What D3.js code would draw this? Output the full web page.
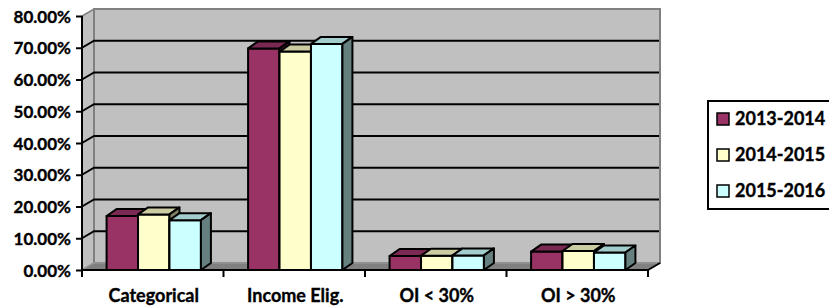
<!DOCTYPE html>
<html>
<head>
<meta charset="utf-8">
<script src="https://cdn.jsdelivr.net/npm/d3@7"></script>
<style>
  body { margin: 0; background: #fff; }
  text { font-family: Lato, "Open Sans", sans-serif; font-weight: bold; fill: #000; stroke: #000; stroke-width: 0.35px; }
</style>
</head>
<body>
<svg id="chart" width="829" height="306"></svg>
<script>
// data
var categories = ["Categorical", "Income Elig.", "OI < 30%", "OI > 30%"]
var seriesNames = ["2013-2014", "2014-2015", "2015-2016"]
var s2013 = [0.170, 0.698, 0.044, 0.058]
var s2014 = [0.175, 0.688, 0.045, 0.060]
var s2015 = [0.157, 0.712, 0.046, 0.055]
var yTicks = [0, 0.1, 0.2, 0.3, 0.4, 0.5, 0.6, 0.7, 0.8]

var seriesValues = [s2013, s2014, s2015]
var fronts = ["#993366", "#FFFFCC", "#CCFFFF"]

var svg = d3.select("#chart")

// plot geometry
var plotLeft = 82, plotRight = 648, plotBottom = 270, plotTop = 16
var wallDx = 12, wallDy = 7   // depth of the back wall
var barDx = 10, barDy = 7     // depth of a bar

var y = d3.scaleLinear().domain([0, 0.8]).range([plotBottom, plotTop])
var x = d3.scaleBand().domain(categories).range([plotLeft, plotRight]).padding(0)
var xs = d3.scaleBand().domain(seriesNames).range([0, x.bandwidth() * 2 / 3])

function shade(c, k){
    var col = d3.rgb(c)
    return d3.rgb(col.r * k, col.g * k, col.b * k).toString()
}

//#region WALLS
var wallTop = y(0.8) - wallDy
var wallRight = plotRight + wallDx
// side wall
svg.append("polygon")
    .attr("points", [[plotLeft, plotBottom], [plotLeft, plotTop], [plotLeft + wallDx, wallTop], [plotLeft + wallDx, plotBottom - wallDy]].join(" "))
    .style("fill", "#c0c0c0").style("stroke", "#808080").style("stroke-width", 1.5)
// back wall
svg.append("rect")
    .attr("x", plotLeft + wallDx).attr("y", wallTop)
    .attr("width", wallRight - plotLeft - wallDx).attr("height", plotBottom - wallDy - wallTop)
    .style("fill", "#c0c0c0").style("stroke", "#808080").style("stroke-width", 2)
// floor
svg.append("polygon")
    .attr("points", [[plotLeft, plotBottom], [plotRight, plotBottom], [wallRight, plotBottom - wallDy], [plotLeft + wallDx, plotBottom - wallDy]].join(" "))
    .style("fill", "#808080").style("stroke", "#a0a0a0").style("stroke-width", 1)
svg.append("line")
    .attr("x1", plotRight).attr("y1", plotBottom).attr("x2", wallRight).attr("y2", plotBottom - wallDy)
    .style("stroke", "#000").style("stroke-width", 2)

// gridlines across side and back walls
svg.append("g").selectAll("polyline")
    .data(yTicks.filter(function(t){ return t > 0 && t < 0.8 }))
    .join("polyline")
    .attr("points", function(t){
        return [[plotLeft, y(t)], [plotLeft + wallDx, y(t) - wallDy], [wallRight - 1, y(t) - wallDy]].join(" ")
    })
    .style("fill", "none").style("stroke", "#000").style("stroke-width", 2)

//#region BARS
var bars = []
categories.forEach(function(c, i){
    seriesNames.forEach(function(s, j){
        bars.push({cat: c, series: s, value: seriesValues[j][i], color: fronts[j]})
    })
})

var barG = svg.append("g")
bars.forEach(function(d){
    var x0 = x(d.cat) + x.bandwidth() / 6 + 1 + xs(d.series)
    var x1 = x0 + xs.bandwidth()
    var yv = y(d.value), y0 = y(0)
    var g = barG.append("g")
    g.append("polygon")
        .attr("points", [[x0, y0], [x0, yv], [x1, yv], [x1, y0]].join(" "))
        .style("fill", d.color)
    g.append("polygon")
        .attr("points", [[x0, yv], [x0 + barDx, yv - barDy], [x1 + barDx, yv - barDy], [x1, yv]].join(" "))
        .style("fill", shade(d.color, 0.8))
    g.append("polygon")
        .attr("points", [[x1, yv], [x1 + barDx, yv - barDy], [x1 + barDx, y0 - barDy], [x1, y0]].join(" "))
        .style("fill", shade(d.color, 0.5))
    g.selectAll("polygon").style("stroke", "#000").style("stroke-width", 2).style("stroke-linejoin", "round")
})

//#region AXES
var yAxis = d3.axisLeft(y).tickValues(yTicks).tickSize(6).tickPadding(5)
    .tickFormat(function(t){ return (t * 100).toFixed(2) + "%" })
var ya = svg.append("g").attr("transform", "translate(" + plotLeft + ",0)").call(yAxis)
ya.select(".domain").attr("d", "M0," + plotBottom + "V" + plotTop).style("stroke", "#000").style("stroke-width", 2)
ya.selectAll(".tick line").style("stroke", "#000").style("stroke-width", 2)
ya.selectAll(".tick text").style("font-size", "17px").attr("dy", "0.36em")

var xa = svg.append("g").attr("transform", "translate(0," + plotBottom + ")")
xa.append("line").attr("x1", plotLeft).attr("x2", plotRight).style("stroke", "#000").style("stroke-width", 2)
xa.selectAll(".ctick").data(categories.concat([null])).join("line")
    .attr("x1", function(c){ return c ? x(c) : plotRight })
    .attr("x2", function(c){ return c ? x(c) : plotRight })
    .attr("y1", 0).attr("y2", 7)
    .style("stroke", "#000").style("stroke-width", 2)
xa.selectAll(".clabel").data(categories).join("text")
    .attr("x", function(c){ return x(c) + x.bandwidth() / 2 + 1 })
    .attr("y", 32)
    .attr("text-anchor", "middle")
    .style("font-size", "18px")
    .text(function(c){ return c })

//#region LEGEND
var legend = svg.append("g")
legend.append("rect").attr("x", 708).attr("y", 101).attr("width", 140).attr("height", 108)
    .style("fill", "#fff").style("stroke", "#000").style("stroke-width", 2)
var rows = legend.selectAll(".row").data(seriesNames).join("g")
    .attr("transform", function(d, i){ return "translate(717," + (119 + i * 36) + ")" })
rows.append("rect").attr("x", 0).attr("y", -6).attr("width", 12).attr("height", 12)
    .style("fill", function(d, i){ return fronts[i] })
    .style("stroke", "#000").style("stroke-width", 1.5)
rows.append("text").attr("x", 18).attr("dy", "0.36em").style("font-size", "18px")
    .text(function(d){ return d })
</script>
</body>
</html>
